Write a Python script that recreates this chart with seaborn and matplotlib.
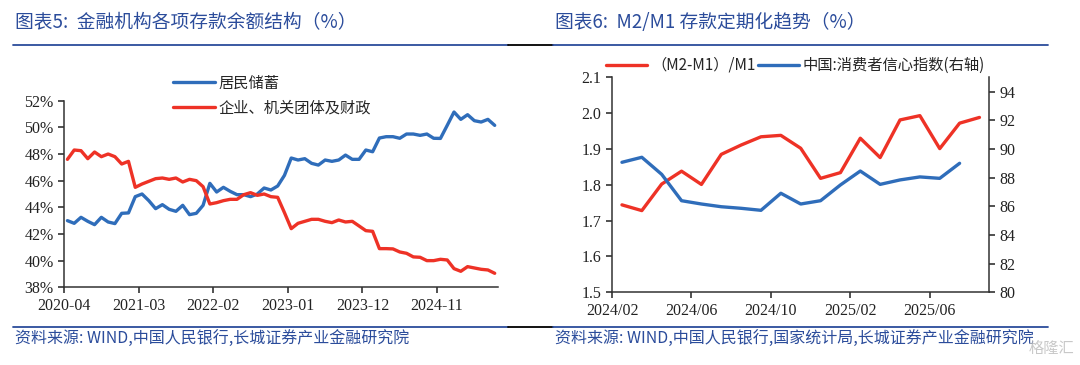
import matplotlib
matplotlib.use("Agg")
import matplotlib.pyplot as plt
import seaborn as sns
import pandas as pd

# ---- left chart: deposit structure (%), monthly 2020-04 .. 2025-07
months_left = pd.period_range("2020-04", "2025-07", freq="M").strftime("%Y-%m").tolist()
household = [43.0, 42.8, 43.25, 42.95, 42.7, 43.25, 42.9, 42.78, 43.55, 43.58,
             44.8, 45.0, 44.5, 43.9, 44.2, 43.85, 43.7, 44.15, 43.45, 43.55,
             44.15, 45.8, 45.15, 45.5, 45.2, 44.95, 44.95, 44.8, 45.0, 45.45,
             45.3, 45.6, 46.4, 47.7, 47.55, 47.65, 47.3, 47.17, 47.55, 47.45,
             47.55, 47.92, 47.6, 47.6, 48.3, 48.17, 49.2, 49.3, 49.3, 49.18,
             49.5, 49.5, 49.4, 49.5, 49.18, 49.17, 50.15, 51.15, 50.6, 50.95,
             50.5, 50.4, 50.6, 50.15]
corporate = [47.6, 48.3, 48.25, 47.65, 48.15, 47.8, 48.0, 47.8, 47.25, 47.45,
             45.5, 45.75, 45.95, 46.15, 46.2, 46.1, 46.2, 45.9, 46.1, 46.0,
             45.55, 44.25, 44.35, 44.5, 44.6, 44.6, 44.95, 45.1, 44.9, 45.0,
             44.8, 44.75, 43.6, 42.4, 42.8, 42.95, 43.1, 43.1, 42.95, 42.85,
             43.05, 42.9, 42.95, 42.6, 42.25, 42.2, 40.9, 40.9, 40.88, 40.65,
             40.55, 40.28, 40.25, 40.0, 40.0, 40.1, 40.05, 39.4, 39.2, 39.55,
             39.45, 39.35, 39.3, 39.05]
left_ticklabels = ["2020-04", "2021-03", "2022-02", "2023-01", "2023-12", "2024-11"]

# ---- right chart: (M2-M1)/M1 and consumer confidence, monthly 2024-02 .. 2025-08
months_right = pd.period_range("2024-02", "2025-08", freq="M").strftime("%Y/%m").tolist()
m2m1_ratio = [1.744, 1.728, 1.802, 1.838, 1.801, 1.885, 1.911, 1.934, 1.938, 1.902,
              1.818, 1.834, 1.930, 1.876, 1.981, 1.993, 1.901, 1.972, 1.988]
confidence = [89.07, 89.42, 88.23, 86.39, 86.16, 85.97, 85.86, 85.72, 86.91, 86.16,
              86.39, 87.49, 88.46, 87.53, 87.84, 88.05, 87.95, 89.0]
right_ticklabels = ["2024/02", "2024/06", "2024/10", "2025/02", "2025/06"]

RED = "#EE3226"
BLUE = "#2F6DBA"
NAVY = "#2B4C9B"
INK = "#333333"

sns.set_style("white")
plt.rcParams["font.family"] = ["Liberation Serif", "Noto Sans CJK SC", "DejaVu Sans"]
cjk = ["Noto Sans CJK SC", "DejaVu Sans"]
serif = ["Liberation Serif", "DejaVu Serif"]

fig = plt.figure(figsize=(10.8, 3.65), dpi=100)

df_left = pd.DataFrame({"idx": range(len(months_left)), "month": months_left,
                        "居民储蓄": household, "企业、机关团体及财政": corporate})
ax1 = fig.add_axes([0.0593, 0.2129, 0.4019, 0.5112])
sns.lineplot(data=df_left, x="idx", y="居民储蓄", ax=ax1, color=BLUE, lw=2.4, label="居民储蓄")
sns.lineplot(data=df_left, x="idx", y="企业、机关团体及财政", ax=ax1, color=RED, lw=2.4,
             label="企业、机关团体及财政")
ax1.set_xlim(-0.5, len(months_left) - 0.5)
ax1.set_ylim(38, 52)
ax1.set_yticks(range(38, 53, 2))
ax1.set_yticklabels([f"{v}%" for v in range(38, 53, 2)])
ax1.set_xticks([months_left.index(m) - 0.5 for m in left_ticklabels])
ax1.set_xticklabels(left_ticklabels)
ax1.set_xlabel("")
ax1.set_ylabel("")
sns.despine(ax=ax1)
ax1.legend(loc="upper left", bbox_to_anchor=(0.22, 1.215), frameon=False,
           prop={"family": cjk, "size": 11}, handlelength=2.7, labelspacing=0.55,
           handletextpad=0.25)

df_right = pd.DataFrame({"idx": range(len(months_right)), "month": months_right})
ax2 = fig.add_axes([0.5667, 0.1992, 0.3494, 0.589])
ax3 = ax2.twinx()
sns.lineplot(x=df_right["idx"], y=m2m1_ratio, ax=ax2, color=RED, lw=2.4, legend=False)
sns.lineplot(x=df_right["idx"][:len(confidence)], y=confidence, ax=ax3, color=BLUE, lw=2.4,
             legend=False)
ax2.set_xlim(-0.5, len(months_right) - 0.5)
ax2.set_ylim(1.5, 2.1)
ax2.set_yticks([1.5 + 0.1 * k for k in range(7)])
ax2.set_yticklabels([f"{1.5 + 0.1 * k:.1f}" for k in range(7)])
ax3.set_ylim(80, 95)
ax3.set_yticks(range(80, 95, 2))
ax2.set_xticks([months_right.index(m) - 0.5 for m in right_ticklabels])
ax2.set_xticklabels(right_ticklabels)
for a in (ax2, ax3):
    a.set_xlabel("")
    a.set_ylabel("")
    a.spines["top"].set_visible(False)
ax3.spines["left"].set_visible(False)
ax3.spines["bottom"].set_visible(False)
ax2.spines["right"].set_visible(False)

handles = [plt.Line2D([], [], color=RED, lw=2.4), plt.Line2D([], [], color=BLUE, lw=2.4)]
ax2.legend(handles, ["（M2-M1）/M1", "中国:消费者信心指数(右轴)"], loc="center left",
           bbox_to_anchor=(-0.052, 1.055), ncol=2, frameon=False,
           prop={"family": cjk, "size": 11}, handlelength=2.7, handletextpad=0.25,
           columnspacing=0.15)

for a in (ax1, ax2, ax3):
    for s in a.spines.values():
        s.set_color(INK)
        s.set_linewidth(1.1)
    a.tick_params(colors="#222222", labelsize=11.5, length=4, width=1.1, direction="out")
    for lab in a.get_xticklabels() + a.get_yticklabels():
        lab.set_family(serif)
ax1.tick_params(axis="both", left=True, bottom=True)
ax2.tick_params(axis="both", left=True, bottom=True)
ax3.tick_params(axis="y", right=True)

# titles, rules and sources
fig.text(0.014, 0.937, "图表5:  金融机构各项存款余额结构（%）", color=NAVY, fontsize=13.5,
         family=cjk, va="center", style="italic")
fig.text(0.514, 0.937, "图表6:  M2/M1 存款定期化趋势（%）", color=NAVY, fontsize=13.5,
         family=cjk, va="center", style="italic")
for y in (0.877, 0.104):
    fig.add_artist(plt.Line2D([0.012, 0.470], [y, y], color=NAVY, lw=1.3))
    fig.add_artist(plt.Line2D([0.470, 0.512], [y, y], color="black", lw=1.3))
    fig.add_artist(plt.Line2D([0.512, 0.970], [y, y], color=NAVY, lw=1.3))
fig.text(0.014, 0.071, "资料来源: WIND,中国人民银行,长城证券产业金融研究院", color=NAVY,
         fontsize=11.5, family=cjk, va="center", style="italic")
fig.text(0.514, 0.071, "资料来源: WIND,中国人民银行,国家统计局,长城证券产业金融研究院",
         color=NAVY, fontsize=11.5, family=cjk, va="center", style="italic")
fig.text(0.995, 0.045, "格隆汇", color="#BBBBBB", fontsize=11, family=cjk, ha="right",
         va="center", alpha=0.8)

fig.savefig("out.png", dpi=100)
